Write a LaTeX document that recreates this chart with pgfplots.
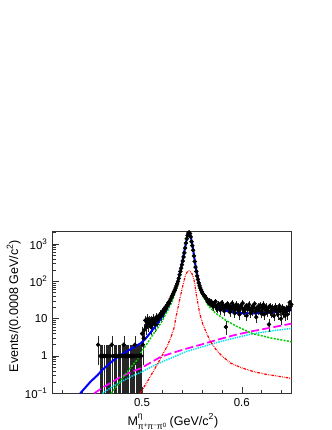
\documentclass[border=0pt]{standalone}
\usepackage{fontspec}
\setmainfont{Liberation Sans}
\usepackage{pgfplots}
\pgfplotsset{compat=1.18}
\usepackage{pgfplotstable}
\definecolor{rgreen}{RGB}{0,205,0}
\definecolor{rcyan}{RGB}{0,225,235}
\definecolor{rmag}{RGB}{255,0,255}
\definecolor{rred}{RGB}{255,0,0}
\definecolor{rblue}{RGB}{0,0,255}

\pgfplotstableread{
x y
0.4560 2
0.4584 1
0.4592 1
0.4600 1
0.4616 1
0.4624 1
0.4640 1
0.4648 1
0.4656 1
0.4672 1
0.4680 1
0.4696 2
0.4704 1
0.4720 1
0.4728 1
0.4736 1
0.4744 1
0.4760 1
0.4768 1
0.4776 1
0.4784 1
0.4800 1
0.4808 1
0.4816 2
0.4824 1
0.4832 1
0.4840 1
0.4848 1
0.4856 1
0.4864 1
0.4880 1
0.4888 1
0.4896 1
0.4904 1
0.4912 1
0.4920 1
0.4928 2
0.4944 1
0.4952 1
0.4960 1
0.4968 1
0.4976 1
0.4984 1
0.4992 1
0.5000 4
0.5008 2
0.5016 3
0.5024 5
0.5032 9
0.5040 6
0.5048 8
0.5056 10
0.5064 7
0.5072 9
0.5080 8
0.5088 6
0.5096 9
0.5104 7
0.5112 10
0.5120 8
0.5128 9
0.5136 7
0.5144 11
0.5152 9
0.5160 10
0.5168 12
0.5176 11
0.5184 13
0.5192 12
0.5200 15
0.5208 14
0.5216 17
0.5224 16
0.5232 20
0.5240 19
0.5248 22
0.5256 24
0.5264 27
0.5272 26
0.5280 31
0.5288 34
0.5296 38
0.5304 42
0.5312 47
0.5320 53
0.5328 58
0.5336 66
0.5344 75
0.5352 86
0.5360 100
0.5368 120
0.5376 150
0.5384 185
0.5392 225
0.5400 280
0.5408 350
0.5416 450
0.5424 580
0.5432 780
0.5440 1050
0.5448 1380
0.5456 1700
0.5464 1950
0.5472 2050
0.5480 1900
0.5488 1550
0.5496 1150
0.5504 900
0.5512 680
0.5520 480
0.5528 340
0.5536 240
0.5544 185
0.5552 140
0.5560 112
0.5568 90
0.5576 76
0.5584 66
0.5592 58
0.5600 52
0.5608 47
0.5616 44
0.5624 41
0.5632 38
0.5640 36
0.5648 33
0.5656 30
0.5664 27
0.5672 31
0.5680 25
0.5688 28
0.5696 28
0.5704 23
0.5712 21
0.5720 26
0.5728 24
0.5736 29
0.5744 20
0.5752 18
0.5760 23
0.5768 25
0.5776 22
0.5784 17
0.5792 21
0.5800 27
0.5808 24
0.5816 19
0.5824 16
0.5832 22
0.5840 6
0.5848 20
0.5856 25
0.5864 23
0.5872 18
0.5880 15
0.5888 21
0.5896 19
0.5904 26
0.5912 22
0.5920 17
0.5928 14
0.5936 20
0.5944 24
0.5952 18
0.5960 21
0.5968 16
0.5976 13
0.5984 19
0.5992 23
0.6000 20
0.6008 26
0.6016 17
0.6024 15
0.6032 19
0.6040 22
0.6048 12
0.6056 18
0.6064 21
0.6072 24
0.6080 17
0.6088 14
0.6096 19
0.6104 16
0.6112 22
0.6120 20
0.6128 25
0.6136 15
0.6144 11
0.6152 18
0.6160 21
0.6168 17
0.6176 19
0.6184 23
0.6192 14
0.6200 16
0.6208 20
0.6216 24
0.6224 13
0.6232 18
0.6240 21
0.6248 17
0.6256 15
0.6264 19
0.6272 7
0.6280 22
0.6288 16
0.6296 14
0.6304 20
0.6312 18
0.6320 12
0.6328 17
0.6336 21
0.6344 19
0.6352 15
0.6360 13
0.6368 18
0.6376 22
0.6384 16
0.6392 10
0.6400 17
0.6408 20
0.6416 14
0.6424 18
0.6432 12
0.6440 16
0.6448 19
0.6456 13
0.6464 20
0.6472 17
0.6480 27
0.6488 21
0.6496 24
}\datatab

\begin{document}
\begin{tikzpicture}
\path[use as bounding box] (0,0) rectangle (249pt,322.5pt);
\begin{axis}[
  at={(39.2pt,27.5pt)}, anchor=south west,
  scale only axis, width=179.6pt, height=121.2pt,
  ymode=log, xmin=0.41, xmax=0.65, ymin=0.1, ymax=2130,
  axis line style={line width=0.6pt, black!80},
  xtick={0.5,0.6}, xticklabels={0.5,0.6},
  minor xtick={0.42,0.44,0.46,0.48,0.52,0.54,0.56,0.58,0.62,0.64},
  ytick={0.1,1,10,100,1000},
  yticklabels={10\textsuperscript{−1},1,10,10\textsuperscript{2},10\textsuperscript{3}},
  minor ytick={0.2,0.3,0.4,0.5,0.6,0.7,0.8,0.9,2,3,4,5,6,7,8,9,20,30,40,50,60,70,80,90,200,300,400,500,600,700,800,900,2000},
  tick align=inside, xtick pos=bottom, ytick pos=left,
  major tick length=5pt, minor tick length=2.6pt,
  tick style={line width=0.5pt, black!80},
  every tick label/.append style={font=\fontsize{8.6}{10}\selectfont},
  xlabel={M\rlap{\raisebox{1.05ex}{\fontsize{6.4}{7}\selectfont η}}\raisebox{-0.75ex}{\fontsize{6.4}{7}\selectfont π\raisebox{0.6ex}{\fontsize{4.6}{5}\selectfont +}π\raisebox{0.6ex}{\fontsize{4.6}{5}\selectfont −}π\raisebox{0.6ex}{\fontsize{4.6}{5}\selectfont 0}} (GeV/c\textsuperscript{2})},
  ylabel={Events/(0.0008 GeV/c\textsuperscript{2})},
  xlabel style={at={(axis description cs:0.504,-0.196)}, anchor=base, font=\fontsize{9.4}{11}\selectfont},
  ylabel style={at={(axis description cs:-0.143,0.54)}, anchor=base, font=\fontsize{9.4}{11}\selectfont},
  unbounded coords=discard,
]
% data
\addplot[only marks, mark=*, mark size=1.45pt, black,
  error bars/.cd, y dir=both, y explicit, x dir=both, x fixed=0.0004,
  error bar style={line width=0.3pt, black!85}, error mark=none]
  table[x=x, y=y, y error plus expr={sqrt(\thisrow{y})}, y error minus expr={min(sqrt(\thisrow{y}),0.999*\thisrow{y})}] {\datatab};
% cyan
\addplot[rcyan, line width=1.1pt, dash pattern=on 1pt off 0.8pt] coordinates {
(0.4604,0.1)(0.47,0.15)(0.48,0.21)(0.49,0.29)(0.5,0.38)(0.51,0.52)(0.52,0.7)(0.53,0.9)(0.5437,1.3)(0.56,1.75)(0.575,2.3)(0.592,3.0)(0.61,3.9)(0.63,4.7)(0.65,5.5)};
% magenta
\addplot[rmag, line width=1.3pt, dash pattern=on 6pt off 2.5pt] coordinates {
(0.452,0.1)(0.46,0.14)(0.47,0.2)(0.4787,0.28)(0.49,0.38)(0.4987,0.47)(0.51,0.7)(0.5187,0.95)(0.53,1.2)(0.5454,1.6)(0.56,2.05)(0.575,2.7)(0.592,3.6)(0.61,4.6)(0.63,5.8)(0.65,7.4)};
% red
\addplot[rred, line width=0.9pt, dash pattern=on 2pt off 0.8pt on 0.5pt off 0.8pt on 0.5pt off 0.8pt] coordinates {
(0.498,0.1)(0.505,0.2)(0.512,0.42)(0.5187,0.87)(0.525,1.8)(0.529,3.2)(0.532,5.6)(0.5337,10)(0.5357,18)(0.5387,43)(0.541,80)(0.5425,115)(0.5437,147)(0.545,175)(0.547,190)(0.5485,180)(0.55,160)(0.551,135)(0.552,110)(0.553,80)(0.554,52)(0.555,35)(0.556,25)(0.558,13)(0.561,7)(0.564,4.5)(0.568,2.6)(0.574,1.5)(0.58,1.0)(0.589,0.64)(0.6,0.48)(0.612,0.38)(0.625,0.32)(0.639,0.28)(0.65,0.25)};
% green
\addplot[rgreen, line width=1.1pt, dash pattern=on 1.5pt off 1pt] coordinates {
(0.469,0.1)(0.475,0.16)(0.48,0.25)(0.4887,0.5)(0.4954,0.8)(0.4987,1.2)(0.503,1.8)(0.507,2.6)(0.511,3.8)(0.5154,5.5)(0.52,8.5)(0.5254,16)(0.53,28)(0.533,48)(0.536,85)(0.539,185)(0.5405,300)(0.542,500)(0.5437,870)(0.545,1300)(0.546,1650)(0.547,1850)(0.548,1720)(0.549,1350)(0.5503,870)(0.5518,470)(0.553,270)(0.5545,160)(0.556,100)(0.557,76)(0.5585,56)(0.56,44)(0.5637,30)(0.567,21)(0.5737,14)(0.5837,9.1)(0.595,6.2)(0.6104,4)(0.63,3.0)(0.65,2.4)};
% blue total
\addplot[rblue, line width=1.5pt] coordinates {
(0.438,0.1)(0.4487,0.21)(0.455,0.3)(0.46,0.42)(0.465,0.55)(0.47,0.72)(0.477,1.0)(0.482,1.2)(0.488,1.5)(0.493,1.8)(0.4987,2.2)(0.503,2.8)(0.507,3.8)(0.511,5.2)(0.5154,7.4)(0.519,10.3)(0.522,14)(0.5255,20)(0.5287,31)(0.531,42)(0.533,60)(0.5345,78)(0.536,100)(0.5375,150)(0.539,230)(0.5405,360)(0.542,580)(0.543,780)(0.5437,1000)(0.5445,1250)(0.545,1450)(0.546,1800)(0.547,2050)(0.548,1900)(0.549,1500)(0.5503,1000)(0.5518,560)(0.553,330)(0.5545,190)(0.556,120)(0.557,90)(0.5585,68)(0.56,55)(0.562,45)(0.5637,38)(0.567,30)(0.570,26)(0.5737,22)(0.578,19)(0.583,16.8)(0.587,15.5)(0.595,14.3)(0.6037,13.8)(0.615,14)(0.627,14.6)(0.64,15.7)(0.65,17)};
\end{axis}
\end{tikzpicture}
\end{document}
